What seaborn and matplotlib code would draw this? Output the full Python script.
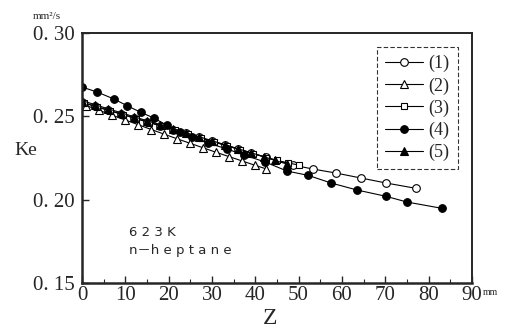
import numpy as np
import matplotlib
matplotlib.use("Agg")
import matplotlib.pyplot as plt
from matplotlib.legend_handler import HandlerLine2D
import seaborn as sns

# Z [mm] and Ke [mm2/s], one pair of lists per run
z1 = [0, 3, 6, 9, 12, 15, 18, 21, 24, 27, 30, 33, 36, 39, 42.5, 48.7, 53.3, 58.6, 64.4, 70.2, 77.1]
k1 = [0.2585, 0.2562, 0.2538, 0.2515, 0.2491, 0.2468, 0.2445, 0.2421, 0.2398, 0.2374,
      0.2351, 0.2328, 0.2304, 0.2281, 0.2254, 0.2208, 0.2184, 0.2160, 0.2130, 0.2100, 0.2068]

z2 = [1, 4, 7, 10, 13, 16, 19, 22, 25, 28, 31, 34, 37, 40, 42.5]
k2 = [0.2565, 0.2536, 0.2507, 0.2478, 0.2450, 0.2421, 0.2393, 0.2365, 0.2338, 0.2311,
      0.2284, 0.2258, 0.2232, 0.2206, 0.2185]

z3 = [0.5, 3.5, 6.5, 9.5, 12.5, 15.5, 18.5, 21.5, 24.5, 27.5, 30.5, 33.5, 36.5, 39.5, 42.5, 45, 47.5, 50]
k3 = [0.2580, 0.2556, 0.2533, 0.2510, 0.2486, 0.2463, 0.2440, 0.2416, 0.2393, 0.2370,
      0.2346, 0.2323, 0.2300, 0.2276, 0.2253, 0.2236, 0.2221, 0.2208]

z4 = [0, 3.5, 7.4, 10.4, 13.6, 16.6, 19.6, 22.6, 25.4, 29.1, 33.5, 37.4, 42.3, 47.3,
      52.2, 57.5, 63.5, 70.2, 75.0, 83.1]
k4 = [0.2676, 0.2646, 0.2604, 0.2564, 0.2524, 0.2490, 0.2446, 0.2408, 0.2374, 0.2340,
      0.2304, 0.2268, 0.2226, 0.2172, 0.2146, 0.2100, 0.2058, 0.2020, 0.1986, 0.1948]

z5 = [0, 3, 6, 9, 12, 15, 18, 21, 24, 27, 30, 33, 36, 39, 42, 44.5, 47.3]
k5 = [0.2595, 0.2570, 0.2546, 0.2522, 0.2498, 0.2474, 0.2450, 0.2426, 0.2402, 0.2378,
      0.2354, 0.2330, 0.2306, 0.2282, 0.2258, 0.2236, 0.2214]

labels = ["(1)", "(2)", "(3)", "(4)", "(5)"]
xticks = [0, 10, 20, 30, 40, 50, 60, 70, 80, 90]
yticks = [0.15, 0.20, 0.25, 0.30]
ytick_labels = ["0. 15", "0. 20", "0. 25", "0. 30"]

sns.set_style("ticks")
plt.rcParams["font.family"] = ["DejaVu Sans"]
serif = ["Liberation Serif", "DejaVu Serif"]
jp = ["DejaVu Sans", "Noto Sans CJK JP"]

fig = plt.figure(figsize=(5.08, 3.34), dpi=100)
ax = fig.add_axes([0.1614, 0.1527, 0.929 - 0.1614, 0.901 - 0.1527])

series = [
    (z1, k1, "o", "white"),
    (z2, k2, "^", "white"),
    (z3, k3, "s", "white"),
    (z5, k5, "^", "black"),
    (z4, k4, "o", "black"),
]
order = [0, 1, 2, 4, 3]
for (zz, kk, mk, fc), lab in zip(series, [labels[i] for i in order]):
    sns.lineplot(x=zz, y=kk, ax=ax, color="black", lw=0.8, marker=mk,
                 markersize=5.5 if mk != "s" else 5, markerfacecolor=fc,
                 markeredgecolor="black", markeredgewidth=0.8, label=lab)

ax.set_xlim(0, 90)
ax.set_ylim(0.15, 0.30)
ax.set_xticks(xticks)
ax.set_xticklabels([str(t) for t in xticks], family=serif, fontsize=15)
ax.set_xticks(np.arange(5, 90, 10), minor=True)
ax.set_yticks(yticks)
ax.set_yticklabels(ytick_labels, family=serif, fontsize=15)
ax.tick_params(axis="both", which="major", direction="in", length=5, width=1, pad=2)
ax.tick_params(axis="x", which="minor", direction="in", length=3, width=0.8)
ax.tick_params(axis="y", pad=5)
for side in ["left", "bottom"]:
    ax.spines[side].set_linewidth(1.8)
for side in ["top", "right"]:
    ax.spines[side].set_linewidth(1.4)
ax.set_xlabel("")
ax.set_ylabel("")


class LeftMarker(HandlerLine2D):
    def get_xdata(self, legend, xdescent, ydescent, width, height, fontsize):
        return [-xdescent, -xdescent + width], [-xdescent]


h, l = ax.get_legend_handles_labels()
idx = [l.index(s) for s in labels]
leg = ax.legend([h[i] for i in idx], labels, loc="upper right",
                bbox_to_anchor=(0.964, 0.944), borderaxespad=0, frameon=True,
                fancybox=False, edgecolor="black", handlelength=2.1,
                handletextpad=0.3, labelspacing=0.27, borderpad=0.45,
                prop={"family": serif, "size": 13},
                handler_map={matplotlib.lines.Line2D: LeftMarker(numpoints=1)})
leg.get_frame().set_linestyle((0, (4, 2)))
leg.get_frame().set_linewidth(0.8)

ax.text(0.12, 0.204, "6 2 3 K", transform=ax.transAxes, fontsize=9.5, va="center")
ax.text(0.12, 0.132, "n－h e p t a n e", transform=ax.transAxes, fontsize=9.5,
        va="center", family=jp)

fig.text(0.051, 0.548, "Ke", ha="center", va="center", family=serif, fontsize=14)
fig.text(0.531, 0.045, "Z", ha="center", va="center", family=serif, fontsize=17)
fig.text(0.093, 0.95, "mm²/s", ha="center", va="center", family=serif, fontsize=8)
fig.text(0.965, 0.125, "mm", ha="center", va="center", family=serif, fontsize=7)

fig.savefig("out.png", dpi=100)
